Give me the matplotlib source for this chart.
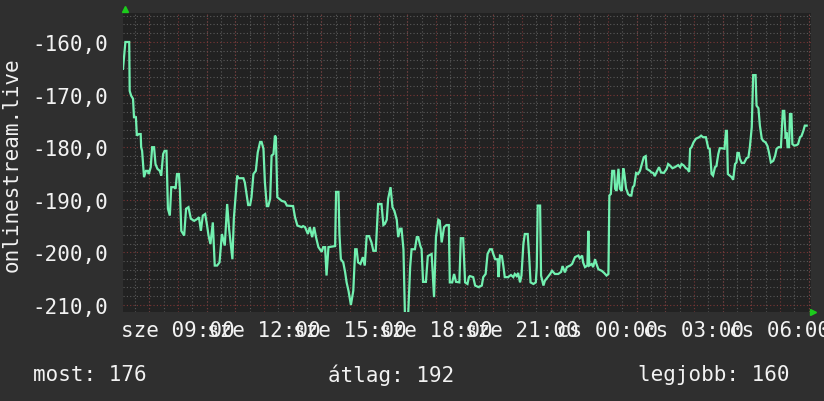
import numpy as np
import matplotlib
matplotlib.use("Agg")
import matplotlib.pyplot as plt
from matplotlib.ticker import MultipleLocator

# minutes since sze 07:05, value
minutes = [
    0, 5, 13, 14, 17, 21, 23, 27, 29, 33, 37, 38, 40, 44, 48, 52, 54, 58, 61, 65,
    68, 72, 77, 80, 84, 87, 91, 94, 98, 101, 107, 110, 113, 117, 119, 122, 128, 132, 137, 142,
    149, 156, 159, 163, 167, 172, 176, 179, 183, 188, 192, 197, 202, 207, 213, 218, 222, 229, 232, 239,
    241, 252, 255, 259, 262, 266, 269, 273, 278, 282, 287, 290, 294, 297, 301, 304, 308, 311, 315, 318,
    320, 323, 332, 339, 343, 356, 360, 365, 374, 377, 381, 387, 391, 396, 400, 404, 409, 416, 419, 423,
    426, 430, 444, 446, 451, 453, 456, 461, 465, 468, 472, 477, 482, 486, 489, 492, 497, 502, 506, 510,
    515, 520, 524, 529, 534, 541, 545, 548, 552, 555, 560, 564, 568, 573, 576, 580, 583, 587, 590, 597,
    601, 604, 611, 615, 618, 622, 625, 628, 634, 638, 642, 646, 651, 655, 660, 663, 667, 672, 677, 682,
    684, 689, 693, 697, 704, 707, 712, 716, 721, 724, 726, 733, 737, 744, 751, 754, 759, 763, 768, 772,
    775, 779, 784, 786, 789, 793, 796, 799, 806, 812, 817, 820, 824, 827, 831, 834, 838, 841, 847, 850,
    853, 859, 864, 866, 868, 873, 875, 880, 883, 889, 894, 898, 904, 911, 917, 920, 925, 929, 936, 940,
    946, 953, 956, 961, 963, 967, 972, 974, 976, 981, 984, 988, 991, 995, 1002, 1007, 1012, 1016, 1018, 1021,
    1024, 1028, 1030, 1033, 1037, 1040, 1044, 1047, 1049, 1053, 1055, 1057, 1061, 1064, 1067, 1070, 1074, 1078, 1082, 1086,
    1090, 1094, 1096, 1103, 1106, 1110, 1113, 1118, 1122, 1126, 1132, 1138, 1141, 1145, 1150, 1155, 1162, 1166, 1169, 1174,
    1178, 1181, 1185, 1187, 1190, 1194, 1199, 1206, 1210, 1214, 1220, 1225, 1228, 1232, 1235, 1239, 1242, 1246, 1249, 1253,
    1259, 1262, 1264, 1266, 1270, 1274, 1277, 1281, 1284, 1286, 1289, 1291, 1295, 1300, 1305, 1309, 1312, 1316, 1319, 1324,
    1326, 1330, 1333, 1337, 1340, 1345, 1349, 1352, 1356, 1361, 1365, 1368, 1372, 1377, 1381, 1384, 1387, 1389, 1391, 1394,
    1396, 1399, 1401, 1405, 1410, 1413, 1417, 1420, 1424, 1427, 1431,
]
values = [
    -165.1, -160.0, -160.0, -169.3, -170.2, -170.8, -174.3, -174.3, -177.8, -177.5, -177.5, -180.0, -180.7, -185.7, -184.5, -184.5, -185.1, -183.8, -180.0, -180.0,
    -183.2, -184.1, -184.5, -185.4, -181.3, -180.7, -180.7, -191.7, -193.0, -187.6, -187.6, -187.9, -185.1, -185.1, -187.9, -195.9, -196.8, -191.7, -191.4, -193.6,
    -194.0, -193.6, -193.3, -195.9, -193.0, -192.7, -194.9, -196.8, -198.4, -194.3, -202.5, -202.5, -201.9, -196.5, -198.7, -190.8, -195.5, -201.3, -193.6, -185.4,
    -185.9, -185.9, -186.7, -189.2, -191.0, -191.0, -189.5, -185.1, -184.5, -181.0, -179.0, -179.0, -180.3, -186.7, -191.2, -191.2, -189.8, -181.6, -181.3, -177.8,
    -178.1, -189.5, -190.2, -190.4, -191.1, -191.2, -193.3, -194.9, -195.2, -195.0, -195.2, -196.5, -195.2, -197.1, -195.2, -197.1, -199.0, -199.9, -199.0, -199.0,
    -204.4, -199.0, -198.8, -188.5, -188.5, -196.5, -201.3, -201.9, -203.8, -205.7, -207.3, -210.0, -207.3, -199.4, -199.4, -201.9, -202.2, -200.9, -202.5, -196.9,
    -196.9, -198.1, -199.7, -199.7, -190.8, -190.8, -194.8, -194.6, -193.8, -189.8, -187.6, -191.4, -192.1, -193.8, -197.1, -195.5, -195.5, -199.4, -211.6, -211.6,
    -202.8, -199.4, -199.4, -197.1, -197.1, -198.7, -199.4, -205.6, -205.6, -200.7, -200.5, -200.3, -208.5, -197.1, -193.8, -194.0, -198.1, -195.2, -194.8, -194.8,
    -205.7, -205.7, -204.1, -205.6, -205.7, -197.3, -197.3, -205.7, -206.0, -204.7, -204.5, -204.7, -206.3, -206.6, -206.3, -204.7, -204.1, -200.3, -199.4, -199.4,
    -200.3, -201.3, -201.3, -204.7, -200.6, -200.7, -202.5, -204.7, -204.7, -204.3, -204.7, -204.1, -204.5, -203.9, -205.7, -204.4, -198.4, -196.5, -196.5, -200.6,
    -205.7, -206.0, -205.7, -202.8, -191.1, -191.1, -204.4, -206.3, -205.4, -204.7, -204.1, -203.5, -204.1, -204.1, -203.7, -202.6, -203.8, -202.8, -202.5, -202.2,
    -200.9, -200.6, -201.1, -200.6, -201.9, -202.8, -202.5, -195.9, -202.5, -202.2, -202.8, -201.3, -202.2, -203.2, -203.5, -203.9, -204.4, -204.1, -189.2, -188.9,
    -184.5, -184.5, -187.9, -188.3, -184.1, -187.9, -188.3, -184.0, -184.8, -187.9, -188.3, -188.9, -189.2, -189.2, -187.6, -187.3, -184.9, -185.1, -184.5, -183.2,
    -181.9, -181.7, -184.1, -184.5, -184.8, -184.9, -185.5, -184.5, -183.8, -184.8, -184.9, -184.1, -183.2, -183.5, -184.0, -183.8, -183.4, -183.8, -183.2, -183.5,
    -184.0, -184.1, -184.7, -180.3, -180.0, -179.1, -178.4, -178.1, -177.8, -178.1, -178.1, -180.2, -180.3, -185.1, -185.4, -183.8, -183.6, -181.3, -180.2, -180.2,
    -180.3, -176.9, -176.9, -185.1, -185.4, -185.7, -186.2, -183.2, -182.9, -181.1, -181.1, -182.2, -183.0, -183.0, -182.1, -181.9, -180.0, -176.2, -166.3, -166.3,
    -172.1, -172.6, -175.9, -178.4, -178.8, -179.1, -179.8, -181.0, -182.9, -182.6, -181.6, -180.3, -180.0, -180.0, -173.1, -173.1, -178.4, -177.2, -180.0, -180.0,
    -173.7, -173.7, -179.4, -179.7, -179.6, -179.4, -178.1, -177.9, -176.9, -175.9, -175.9,
]

start_hour = 7 + 5 / 60
tick_hours = [9, 12, 15, 18, 21, 24, 27, 30]
tick_labels = ["sze 09:00", "sze 12:00", "sze 15:00", "sze 18:00", "sze 21:00",
               "cs 00:00", "cs 03:00", "cs 06:00"]
y_ticks = [-160, -170, -180, -190, -200, -210]
y_label = "onlinestream.live"
legend_items = ["most: 176", "átlag: 192", "legjobb: 160"]

BG = "#2f2f2f"
PLOT_BG = "#222222"
TEXT = "#f2f2f2"
LINE = "#72f0b0"
FONT = "DejaVu Sans Mono"

t = start_hour + np.array(minutes) / 60.0
v = np.array(values)

fig = plt.figure(figsize=(8.24, 4.02), dpi=100, facecolor=BG)
ax = fig.add_axes([123 / 824, 1 - 313 / 402, 688 / 824, 299 / 402])
ax.set_facecolor(PLOT_BG)

ax.set_xlim(start_hour, start_hour + 24)
ax.set_ylim(-211.33, -154.49)

# grid: minor grey dots, major red dots
ax.xaxis.set_minor_locator(MultipleLocator(0.5))
ax.yaxis.set_minor_locator(MultipleLocator(10 / 6))
ax.grid(which="minor", color="#5a5a5a", linestyle=(0, (1, 2)), linewidth=0.8)
ax.set_xticks(tick_hours)
ax.set_xticklabels(tick_labels)
ax.set_yticks(y_ticks)
ax.set_yticklabels([f"{y:.1f}".replace(".", ",") for y in y_ticks])
for h in np.arange(8, 32, 1):
    ax.axvline(h, color="#7a3636", linestyle=(0, (1, 2)), linewidth=0.8, zorder=1)
for y in y_ticks:
    ax.axhline(y, color="#7a3636", linestyle=(0, (1, 2)), linewidth=0.8, zorder=1)
ax.set_axisbelow(True)

ax.plot(t, v, color=LINE, linewidth=1.6, solid_joinstyle="miter", zorder=3)

for s in ax.spines.values():
    s.set_visible(False)
ax.tick_params(which="both", length=0, colors=TEXT, labelsize=15)
ax.tick_params(axis="x", pad=6)
ax.tick_params(axis="y", pad=11)
for lab in ax.get_xticklabels() + ax.get_yticklabels():
    lab.set_fontfamily(FONT)

fig.text(12 / 824, 1 - 165 / 402, y_label, rotation=90, ha="center", va="center",
         color=TEXT, fontsize=15, fontfamily=FONT)

# rrdtool style axis arrows
ax.plot([0.003], [1.013], marker="^", color="#1ccc1c", markersize=4,
        transform=ax.transAxes, clip_on=False)
ax.plot([1.003], [0.0], marker=">", color="#1ccc1c", markersize=4,
        transform=ax.transAxes, clip_on=False)

for x, txt in zip([33, 328, 638], legend_items):
    fig.text(x / 824, 1 - 375 / 402, txt, ha="left", va="center",
             color=TEXT, fontsize=15, fontfamily=FONT)

fig.savefig("out.png", dpi=100, facecolor=BG)
